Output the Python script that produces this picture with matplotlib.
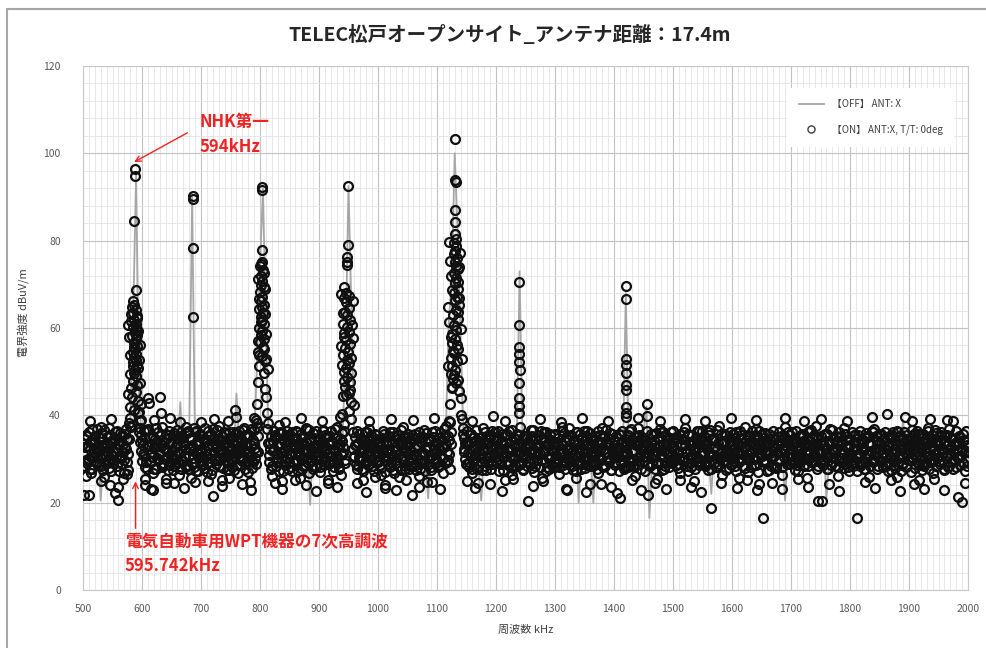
import numpy as np
import matplotlib.pyplot as plt
from matplotlib.patches import Rectangle
from matplotlib.ticker import MultipleLocator

plt.rcParams['font.family'] = ['Noto Sans CJK JP', 'DejaVu Sans']

# =====================================
# Data
# =====================================
TITLE = 'TELEC松戸オープンサイト_アンテナ距離：17.4m'
XLABEL = '周波数 kHz'
YLABEL = '電界強度 dBuV/m'
LABEL_OFF = '【OFF】 ANT: X'
LABEL_ON = '【ON】 ANT:X, T/T: 0deg'

# OFF sweep: 500-2000 kHz, 5 kHz step (dBuV/m)
OFF_START, OFF_STEP = 500, 5
OFF_LEVEL = [
    31, 34, 28, 30, 33, 36, 20.5, 32, 29, 35,     # 500
    33, 27, 31, 34, 29, 30, 38, 62, 95, 45,       # 550
    33, 29, 35, 31, 28, 34, 30, 36, 27, 32,       # 600
    34, 29, 31, 43, 28, 33, 36, 90, 31, 29,       # 650
    32, 35, 28, 31, 34, 30, 27, 33, 36, 29,       # 700
    31, 28, 45, 33, 30, 35, 29, 32, 34, 52,       # 750
    74, 92, 60, 33, 29, 35, 31, 28, 34, 30,       # 800
    36, 29, 32, 34, 27, 31, 33, 19.5, 35, 30,     # 850
    28, 33, 31, 36, 29, 34, 30, 32, 35, 55,       # 900
    92.5, 64, 33, 29, 31, 35, 28, 32, 34, 30,     # 950
    33, 29, 36, 31, 28, 34, 30, 32, 35, 29,       # 1000
    31, 34, 28, 33, 30, 36, 29, 21, 32, 34,       # 1050
    30, 28, 33, 36, 62, 70, 100, 82, 58, 35,      # 1100
    31, 29, 34, 32, 28, 20.5, 33, 30, 35, 29,     # 1150
    34, 31, 28, 33, 30, 36, 29, 32, 73, 33,       # 1200
    30, 34, 28, 31, 35, 29, 33, 30, 27, 32,       # 1250
    35, 29, 31, 34, 28, 33, 30, 36, 20, 31,       # 1300
    33, 29, 32, 20, 34, 30, 28, 35, 31, 33,       # 1350
    29, 32, 35, 30, 68, 33, 28, 31, 34, 30,       # 1400
    36, 42, 16.5, 31, 34, 29, 33, 30, 35, 28,     # 1450
    32, 34, 29, 31, 36, 28, 33, 30, 35, 31,       # 1500
    29, 33, 31, 22, 34, 30, 36, 28, 32, 34,       # 1550
    30, 35, 28, 33, 31, 29, 34, 32, 36, 30,       # 1600
    28, 33, 31, 35, 29, 34, 30, 32, 20.5, 33,     # 1650
    35, 29, 32, 34, 28, 31, 36, 30, 33, 29,       # 1700
    32, 35, 21, 30, 34, 28, 33, 31, 36, 29,       # 1750
    33, 30, 34, 29, 32, 36, 28, 31, 35, 30,       # 1800
    29, 34, 31, 33, 28, 36, 30, 32, 39, 31,       # 1850
    34, 30, 33, 28, 35, 31, 29, 36, 32, 30,       # 1900
    31, 35, 28, 33, 30, 34, 29, 32, 36, 30,       # 1950
    33,                                           # 2000
]

# ON sweep noise floor: three interleaved passes, 2.5 kHz step each
# (None = no noise-level point, carrier region)
ON_START, ON_STEP = 500, 2.5
ON_OFFSETS = [0.0, 0.8, 1.6]
NOISE_ON_A = [
    33.4, 21.8, 35.6, 29.1, 21.7, 27.8, 36.9, 30.5, 34.2, 31.4, 32.8, 28.6, 37.4, 33.1, 25.9, 30.9, 35.1, 29.7, 33.8, 27.3,  # 500
    31.6, 34.8, 22.3, 28.4, 20.6, 35.9, 30.2, 33.5, 26.7, 36.8, 29.4, 38.2, None, None, None, None, None, None, 40.7, 38.9,  # 550
    29.6, 33.2, 25.4, 36.7, 43.9, 42.8, 23.1, 31.5, 27.8, 34.6, 30.3, 36.2, 44.2, 40.5, 28.7, 33.9, 24.6, 32.1, 35.4, 29.2,  # 600
    31.8, 27.5, 35.9, 30.1, 33.6, 26.3, 38.4, 29.7, 34.8, 32.2, 28.1, 36.5, 30.7, 25.6, 33.3, 37.1, 29.4, 34.1, 27.2, 31.9,  # 650
    35.2, 30.6, 27.9, 33.8, 29.1, 36.3, 31.4, 26.5, 21.6, 34.5, 28.8, 32.7, 37.6, 30.1, 25.2, 33.1, 29.8, 35.7, 31.2, 27.4,  # 700
    32.4, 28.2, 36.1, 30.8, 34.3, 26.9, 31.7, 33.9, 29.5, 37.2, 27.6, 35.1, 30.4, 24.7, 33.2, 29.3, 36.6, 31.5, 38.3, None,  # 750
    None, None, None, None, None, 36.9, 29.2, 33.6, 26.1, 31.8, 35.4, 28.5, 32.9, 37.8, 30.3, 24.9, 34.2, 29.6, 33.1, 27.7,  # 800
    35.6, 30.9, 27.3, 33.4, 29.8, 36.2, 31.1, 25.7, 34.7, 28.4, 32.3, 37.1, 30.2, 26.8, 33.8, 29.5, 35.9, 31.6, 28.1, 34.4,  # 850
    30.7, 27.1, 33.9, 36.4, 29.3, 32.1, 24.4, 35.2, 30.6, 33.7, 28.2, 31.9, 37.3, 29.1, 34.6, 26.4, 32.8, 38.1, None, None,  # 900
    None, None, None, 36.2, 30.4, 33.1, 27.6, 35.8, 29.9, 32.6, 25.3, 34.1, 31.2, 28.7, 36.8, 30.1, 33.5, 27.2, 31.8, 35.4,  # 950
    29.4, 32.9, 26.3, 34.7, 30.8, 23.4, 33.2, 28.9, 36.1, 31.4, 27.5, 35.3, 29.7, 32.4, 25.8, 34.1, 30.2, 37.4, 28.4, 33.3,  # 1000
    31.2, 27.8, 34.5, 21.7, 30.1, 35.8, 28.6, 32.7, 26.2, 33.9, 29.4, 36.6, 31.1, 24.8, 34.3, 30.5, 27.4, 35.1, 32.2, 29.1,  # 1050
    33.7, 28.3, 35.9, 30.6, 26.9, 32.8, 37.6, 29.2, 34.4, 38.4, None, None, None, None, None, None, None, 39.2, 34.8, 30.1,  # 1100
    36.3, 31.4, 28.1, 33.8, 26.7, 35.1, 30.2, 32.9, 24.6, 34.7, 29.3, 37.2, 31.8, 27.5, 33.4, 30.7, 35.6, 28.8, 32.3, 36.1,  # 1150
    29.6, 34.2, 27.3, 31.9, 35.7, 30.4, 25.1, 33.6, 28.7, 36.4, 32.1, 26.4, 34.9, 30.3, 33.2, 29.1, 37.3, 31.5, 27.8, 35.2,  # 1200
    32.6, 28.4, 20.4, 34.8, 30.2, 36.7, 27.1, 33.5, 29.8, 35.4, 31.1, 25.7, 33.9, 29.2, 36.2, 30.8, 27.6, 34.3, 32.4, 28.1,  # 1250
    35.8, 30.9, 33.1, 26.6, 31.7, 37.4, 29.4, 34.2, 22.8, 32.5, 28.7, 35.6, 30.3, 33.8, 27.2, 36.1, 31.6, 29.1, 34.7, 30.2,  # 1300
    27.9, 33.3, 36.5, 30.1, 24.3, 32.8, 28.6, 35.2, 31.4, 26.8, 34.1, 29.7, 37.1, 32.2, 28.3, 33.6, 30.5, 35.9, 27.4, 31.8,  # 1350
    34.3, 29.2, 22.2, 32.7, 21.0, 35.5, 30.8, 27.7, 33.9, 31.3, 36.3, 28.5, 34.6, 30.1, 26.2, 33.2, 37.2, 29.6, 32.4, 35.1,  # 1400
    30.4, 27.3, 33.7, 21.8, 31.2, 35.8, 28.9, 34.4, 30.6, 25.4, 32.9, 36.9, 29.1, 33.4, 27.6, 35.3, 31.7, 28.2, 34.8, 30.9,  # 1450
    36.4, 32.1, 28.6, 34.9, 30.3, 26.7, 33.5, 29.8, 37.1, 31.9, 27.2, 35.6, 30.7, 33.2, 24.9, 32.6, 36.3, 29.4, 34.1, 28.8,  # 1500
    31.5, 35.2, 29.1, 33.8, 27.4, 36.6, 18.8, 30.9, 34.5, 28.2, 32.3, 37.5, 30.1, 26.3, 33.7, 29.6, 35.4, 31.2, 27.9, 34.2,  # 1550
    30.6, 33.4, 28.4, 36.1, 31.8, 25.6, 34.7, 29.9, 32.6, 37.3, 30.2, 27.1, 35.3, 31.4, 33.9, 28.7, 36.8, 30.5, 24.2, 33.1,  # 1600
    35.7, 16.6, 29.3, 33.2, 31.1, 27.5, 34.6, 30.4, 36.5, 32.7, 28.1, 35.1, 29.7, 33.6, 26.4, 31.9, 37.4, 30.8, 34.3, 28.9,  # 1650
    32.4, 36.2, 29.5, 34.1, 30.7, 27.3, 33.8, 31.2, 35.5, 28.6, 32.9, 25.7, 36.4, 30.3, 34.7, 29.2, 33.1, 37.6, 20.3, 31.5,  # 1700
    33.6, 20.4, 29.9, 35.8, 31.3, 27.7, 34.2, 30.5, 36.7, 32.1, 28.4, 33.9, 26.1, 31.7, 35.2, 29.4, 37.2, 32.8, 30.2, 27.3,  # 1750
    34.6, 31.1, 28.3, 35.4, 32.2, 16.5, 30.6, 36.3, 29.2, 33.7, 27.6, 34.9, 31.4, 25.8, 33.3, 29.8, 36.9, 30.9, 34.1, 28.5,  # 1800
    32.3, 35.7, 29.6, 33.9, 30.4, 40.4, 27.2, 34.8, 31.6, 36.2, 28.7, 33.1, 25.9, 30.9, 35.3, 32.4, 29.1, 39.6, 31.2, 34.4,  # 1850
    29.8, 33.5, 36.6, 30.2, 27.9, 34.3, 31.8, 25.2, 35.6, 32.7, 28.3, 33.8, 30.6, 37.1, 29.4, 34.6, 26.8, 32.1, 35.9, 30.3,  # 1900
    33.2, 28.9, 35.4, 31.3, 27.6, 34.1, 30.7, 36.8, 32.4, 29.2, 38.6, 33.6, 28.1, 21.2, 35.2, 30.6, 20.1, 34.3, 31.8, 29.5,  # 1950
    32.7,                                                                                                                     # 2000
]
NOISE_ON_B = [
    31.2, 34.6, 29.8, 32.9, 36.1, 30.4, 27.6, 33.7, 35.2, 29.3, 31.8, 34.9, 28.4, 32.5, 36.7, 30.8, 33.4, 27.9, 35.6, 31.1,  # 500
    33.9, 29.7, 32.6, 36.3, 30.2, 34.1, 28.8, 31.5, 35.8, 32.2, 27.4, 34.5, None, None, None, None, None, None, 37.2, 31.9,  # 550
    34.3, 30.6, 28.1, 33.2, 36.8, 31.4, 29.5, 35.1, 32.7, 27.8, 34.2, 30.9, 33.6, 37.4, 29.1, 32.3, 35.7, 31.6, 28.6, 33.8,  # 600
    30.1, 35.4, 32.8, 28.9, 34.7, 31.3, 36.2, 29.6, 33.1, 30.7, 35.9, 27.7, 32.4, 34.8, 30.3, 28.2, 36.4, 31.7, 33.5, 29.4,  # 650
    32.1, 28.7, 34.4, 31.9, 27.1, 35.5, 30.2, 33.3, 36.9, 29.8, 32.6, 34.1, 28.3, 31.1, 35.3, 30.5, 33.9, 27.5, 32.8, 36.1,  # 700
    29.9, 33.6, 31.4, 35.8, 28.6, 32.2, 30.1, 34.6, 36.7, 31.8, 29.2, 33.1, 35.4, 30.7, 27.9, 34.3, 32.5, 28.8, 35.2, None,  # 750
    None, None, None, None, None, 33.7, 30.9, 35.3, 28.4, 32.1, 34.8, 31.2, 29.6, 36.2, 33.4, 27.3, 31.9, 35.6, 30.2, 34.1,  # 800
    31.3, 28.2, 34.5, 32.6, 36.4, 29.7, 33.2, 30.8, 27.6, 35.1, 31.7, 33.8, 29.1, 36.6, 32.3, 28.5, 34.9, 30.4, 33.3, 31.6,  # 850
    34.2, 30.3, 32.9, 28.7, 35.6, 31.1, 33.7, 29.4, 36.3, 27.2, 32.4, 34.8, 30.6, 28.1, 33.5, 35.9, 31.3, 29.8, None, None,  # 900
    None, None, None, 32.4, 35.1, 28.9, 33.6, 30.5, 34.4, 27.8, 31.9, 36.1, 29.3, 33.2, 30.9, 35.5, 28.4, 32.7, 34.6, 31.5,  # 950
    30.8, 34.1, 27.9, 32.3, 35.7, 29.5, 31.6, 33.9, 28.2, 30.4, 36.2, 32.8, 29.1, 34.5, 31.2, 27.4, 33.4, 30.7, 35.3, 31.9,  # 1000
    33.3, 29.6, 31.8, 35.4, 28.3, 32.6, 34.7, 30.1, 27.6, 33.8, 31.4, 29.2, 35.9, 32.1, 28.8, 34.2, 30.6, 33.1, 36.4, 29.9,  # 1050
    31.5, 34.9, 28.6, 32.8, 30.3, 35.6, 33.2, 29.7, 31.1, 36.2, None, None, None, None, None, None, None, 35.8, 31.7, 33.6,  # 1100
    28.9, 33.5, 31.2, 35.8, 29.4, 32.7, 34.3, 27.8, 31.9, 30.6, 35.1, 32.4, 28.5, 34.6, 30.9, 33.7, 29.2, 36.3, 31.4, 32.9,  # 1150
    34.5, 30.1, 32.6, 28.8, 33.9, 31.7, 35.4, 29.6, 32.2, 30.8, 34.1, 27.9, 33.3, 31.5, 35.7, 28.6, 32.8, 30.4, 34.9, 31.2,  # 1200
    30.2, 33.7, 31.6, 29.1, 35.2, 32.3, 28.4, 34.6, 30.9, 33.1, 36.5, 29.7, 31.8, 34.2, 28.2, 32.9, 35.5, 30.5, 33.4, 29.6,  # 1250
    32.7, 29.4, 34.8, 31.1, 33.6, 28.7, 35.9, 30.3, 32.1, 34.4, 29.8, 31.6, 27.5, 33.9, 36.1, 30.7, 32.4, 34.7, 28.9, 33.2,  # 1300
    31.9, 35.3, 30.4, 32.8, 28.3, 34.1, 31.2, 29.5, 33.7, 36.4, 30.1, 32.5, 28.6, 35.2, 31.7, 33.4, 29.3, 34.6, 32.2, 30.6,  # 1350
    33.1, 30.8, 32.4, 35.7, 29.6, 31.3, 34.2, 28.1, 32.9, 35.4, 30.2, 33.6, 29.4, 31.8, 35.1, 28.7, 33.3, 30.9, 34.5, 32.1,  # 1400
    29.5, 34.3, 31.4, 28.9, 32.7, 30.3, 35.6, 33.2, 29.1, 31.7, 34.8, 30.6, 32.3, 36.1, 28.4, 33.5, 31.1, 34.7, 29.8, 32.6,  # 1450
    33.8, 30.2, 35.1, 31.6, 28.8, 32.9, 34.6, 30.4, 33.1, 29.3, 35.8, 31.9, 28.1, 34.2, 32.5, 30.7, 33.7, 36.3, 29.6, 31.4,  # 1500
    30.9, 33.3, 28.6, 32.2, 35.4, 31.1, 29.7, 34.5, 32.8, 30.3, 33.6, 28.9, 35.7, 31.5, 34.1, 30.8, 32.4, 29.2, 36.2, 33.1,  # 1550
    32.3, 29.6, 34.8, 31.7, 33.2, 30.1, 35.5, 28.4, 32.6, 34.3, 31.2, 29.9, 33.8, 36.4, 30.5, 32.9, 28.7, 34.6, 31.3, 33.5,  # 1600
    30.6, 34.2, 31.8, 29.4, 33.3, 35.8, 30.2, 32.7, 28.5, 34.9, 31.6, 33.1, 29.8, 35.3, 32.2, 30.4, 34.5, 28.9, 33.6, 31.2,  # 1650
    34.4, 30.7, 33.5, 31.1, 28.6, 35.2, 32.4, 29.9, 34.1, 30.3, 33.7, 36.1, 31.5, 29.2, 32.8, 35.4, 30.8, 33.2, 28.3, 32.1,  # 1700
    31.4, 33.9, 29.5, 32.6, 35.7, 30.9, 33.4, 28.7, 31.9, 34.6, 30.2, 32.5, 35.1, 29.6, 33.8, 31.3, 28.9, 34.3, 32.7, 30.5,  # 1750
    33.2, 29.8, 32.1, 35.6, 30.6, 33.7, 31.4, 28.8, 34.5, 32.2, 29.3, 35.2, 30.9, 33.5, 31.8, 36.2, 29.7, 32.6, 34.1, 30.4,  # 1800
    29.6, 33.4, 31.2, 34.7, 28.5, 32.9, 35.3, 30.8, 33.1, 29.9, 34.4, 31.7, 36.1, 30.2, 32.4, 28.6, 33.9, 31.5, 35.6, 32.3,  # 1850
    32.8, 30.4, 34.6, 31.1, 33.3, 29.2, 35.8, 32.5, 30.1, 33.6, 28.9, 31.8, 34.9, 30.6, 32.2, 35.4, 29.5, 33.8, 31.3, 34.2,  # 1900
    31.7, 34.1, 29.8, 32.3, 35.5, 30.9, 33.2, 28.4, 32.7, 34.8, 31.4, 29.6, 33.9, 30.3, 35.1, 32.6, 29.1, 34.4, 31.8, 33.3,  # 1950
    32.1,                                                                                                                     # 2000
]
NOISE_ON_C = [
    28.4, 32.7, 35.3, 30.1, 33.8, 26.9, 34.5, 31.6, 29.2, 36.8, 32.3, 30.7, 35.9, 27.5, 33.1, 31.9, 29.6, 37.1, 30.3, 34.2,  # 500
    29.1, 36.2, 31.7, 33.4, 27.3, 30.6, 35.5, 29.8, 32.8, 34.6, 31.1, 37.6, None, None, None, None, None, None, 33.8, 35.6,  # 550
    31.2, 36.5, 29.4, 27.6, 32.9, 34.7, 30.5, 26.8, 33.6, 37.2, 29.7, 31.4, 35.8, 28.2, 32.6, 30.1, 34.9, 27.4, 36.3, 30.8,  # 600
    33.6, 28.5, 31.1, 36.7, 29.2, 35.3, 27.8, 33.9, 30.6, 37.3, 28.7, 32.5, 34.9, 29.1, 31.8, 36.1, 27.3, 33.2, 30.4, 35.7,  # 650
    28.9, 34.6, 37.1, 30.7, 33.1, 29.3, 35.8, 27.4, 31.6, 33.4, 36.7, 29.8, 32.2, 34.4, 27.9, 36.2, 31.1, 33.7, 29.4, 34.8,  # 700
    35.1, 30.6, 27.5, 33.2, 31.9, 36.4, 28.6, 32.7, 30.3, 35.5, 33.6, 27.1, 31.8, 36.9, 29.5, 33.7, 30.2, 37.4, 31.6, None,  # 750
    None, None, None, None, None, 38.3, 32.4, 27.7, 34.1, 36.3, 29.9, 33.2, 27.2, 31.5, 35.9, 30.8, 28.6, 33.3, 36.5, 29.4,  # 800
    33.8, 36.1, 29.4, 31.2, 34.8, 27.3, 32.6, 35.7, 30.1, 33.4, 28.6, 36.8, 31.9, 29.5, 34.3, 27.8, 32.7, 36.4, 30.6, 33.1,  # 850
    28.1, 33.4, 36.7, 30.2, 32.5, 35.3, 28.8, 31.7, 34.2, 29.6, 36.9, 30.4, 33.3, 27.6, 31.2, 34.1, 36.4, 29.1, None, None,  # 900
    None, None, None, 30.7, 33.2, 36.5, 28.4, 31.7, 34.9, 27.3, 33.5, 29.8, 36.2, 31.4, 34.2, 28.5, 32.9, 35.7, 29.3, 33.6,  # 950
    34.2, 28.7, 31.5, 36.4, 27.1, 33.8, 30.4, 35.2, 29.3, 33.6, 26.7, 31.9, 35.4, 28.5, 33.1, 36.6, 29.9, 32.2, 27.6, 34.7,  # 1000
    35.7, 32.1, 28.4, 30.9, 34.6, 27.5, 33.3, 36.1, 29.8, 31.6, 35.1, 27.2, 32.8, 34.9, 30.3, 28.1, 36.2, 31.3, 29.4, 33.7,  # 1050
    28.2, 32.6, 30.7, 34.4, 36.8, 29.1, 31.7, 35.3, 27.6, 33.4, None, None, None, None, None, None, None, 37.1, 32.2, 28.8,  # 1100
    33.6, 29.2, 35.4, 27.8, 32.1, 30.9, 36.7, 28.4, 34.2, 31.1, 27.4, 33.9, 36.1, 30.3, 29.5, 34.8, 27.7, 32.6, 35.1, 30.4,  # 1150
    31.8, 36.3, 29.6, 34.2, 27.5, 33.1, 30.6, 35.8, 28.9, 32.4, 36.7, 30.1, 28.6, 34.5, 31.3, 35.6, 29.1, 33.7, 27.4, 32.9,  # 1200
    35.3, 29.5, 33.2, 36.7, 27.9, 31.4, 34.9, 29.8, 32.7, 28.1, 34.6, 31.6, 36.2, 27.3, 33.4, 30.1, 35.8, 28.6, 31.9, 35.5,  # 1250
    29.1, 33.8, 28.2, 32.4, 36.3, 31.5, 27.6, 35.1, 29.9, 37.1, 32.7, 28.5, 34.3, 31.2, 29.4, 33.5, 35.7, 27.8, 32.1, 36.4,  # 1300
    30.2, 28.6, 33.4, 35.9, 31.1, 29.2, 34.6, 32.4, 27.7, 30.9, 35.4, 33.8, 28.2, 31.6, 36.6, 29.5, 33.2, 27.4, 35.7, 31.3,  # 1350
    28.6, 35.2, 30.4, 27.3, 33.5, 36.4, 29.2, 33.3, 31.4, 28.1, 34.1, 36.8, 31.7, 28.3, 33.9, 30.2, 35.4, 32.5, 27.8, 34.4,  # 1400
    33.2, 30.8, 36.5, 32.3, 28.4, 33.7, 31.2, 27.6, 35.9, 29.3, 33.1, 36.1, 27.4, 31.9, 35.6, 29.4, 34.3, 31.7, 36.2, 29.1,  # 1450
    29.5, 34.6, 31.4, 27.9, 35.7, 33.1, 29.6, 36.2, 31.3, 28.4, 33.8, 29.1, 35.4, 32.3, 27.6, 34.9, 30.2, 28.7, 33.5, 36.3,  # 1500
    34.2, 28.4, 33.5, 36.1, 30.6, 27.8, 34.3, 32.6, 29.4, 36.7, 28.3, 31.4, 33.6, 29.2, 35.8, 27.4, 31.6, 34.7, 30.3, 28.6,  # 1550
    35.8, 31.2, 27.3, 33.6, 29.4, 36.5, 31.1, 33.7, 27.9, 30.4, 35.6, 33.1, 28.2, 31.7, 35.3, 29.9, 32.2, 27.1, 36.4, 30.6,  # 1600
    32.4, 29.7, 35.9, 27.2, 33.8, 31.3, 28.4, 35.2, 30.7, 27.9, 33.4, 36.1, 31.6, 28.2, 34.7, 33.3, 29.5, 36.2, 31.1, 35.6,  # 1650
    29.3, 33.6, 27.4, 36.5, 32.2, 29.8, 31.4, 35.8, 28.3, 33.5, 30.1, 28.4, 33.2, 36.7, 29.6, 31.3, 35.1, 27.6, 34.8, 29.4,  # 1700
    35.2, 28.7, 33.3, 30.4, 27.6, 34.2, 36.8, 32.1, 29.4, 31.6, 35.3, 28.1, 36.2, 33.4, 30.2, 27.9, 35.7, 30.6, 28.1, 34.6,  # 1750
    30.2, 36.1, 29.4, 33.8, 27.2, 35.6, 28.3, 34.1, 31.8, 27.6, 35.9, 30.2, 33.7, 28.4, 36.3, 29.2, 31.6, 35.3, 27.7, 33.6,  # 1800
    35.4, 31.3, 28.2, 36.1, 32.4, 29.1, 33.3, 27.5, 35.6, 31.2, 27.9, 36.3, 29.4, 33.5, 27.3, 34.8, 36.2, 28.1, 33.2, 29.7,  # 1850
    31.4, 27.1, 33.2, 35.8, 30.5, 36.3, 28.6, 33.4, 27.5, 35.7, 31.6, 29.3, 36.4, 27.8, 33.9, 29.6, 31.2, 36.7, 28.4, 33.5,  # 1900
    29.6, 36.2, 32.4, 27.4, 33.8, 35.6, 28.2, 31.3, 34.6, 27.7, 33.1, 36.5, 30.4, 33.7, 28.6, 31.9, 35.8, 27.2, 36.3, 28.4,  # 1950
    30.6,                                                                                                                     # 2000
]

# ON points on the fringe of the noise band (kHz, dBuV/m)
FRINGE_FREQ = [
    505, 530, 545, 560, 568, 575, 605, 618, 640, 655, 672, 690, 712, 735, 748, 770, 785,
    825, 838, 860, 878, 895, 915, 930, 965, 980, 995, 1012, 1030, 1048, 1070, 1092,
    1105, 1150, 1165, 1190, 1210, 1228, 1262, 1280, 1318, 1335, 1352, 1378, 1395,
    1430, 1445, 1470, 1488, 1512, 1530, 1548, 1582, 1608, 1625, 1642, 1668, 1685,
    1712, 1728, 1765, 1782, 1825, 1842, 1870, 1885, 1908, 1925, 1942, 1960, 1995,
    512, 548, 620, 648, 700, 722, 745, 790, 842, 870, 905, 935, 985, 1022, 1060, 1095,
    1160, 1195, 1215, 1275, 1310, 1345, 1390, 1440, 1478, 1520, 1555, 1598, 1640, 1690,
    1722, 1750, 1795, 1838, 1905, 1935, 1965,
]
FRINGE_LEVEL = [
    26.0, 25.0, 24.0, 23.5, 25.5, 26.5, 24.0, 23.0, 25.5, 24.5, 23.3, 24.8, 25.0, 23.8, 25.6, 24.2, 22.8,
    24.6, 23.1, 25.3, 24.0, 22.6, 25.1, 23.5, 24.4, 22.4, 25.8, 24.1, 22.9, 25.2, 23.6, 24.7,
    23.2, 25.0, 23.4, 24.3, 22.7, 25.4, 23.8, 24.9, 23.1, 25.6, 22.5, 24.2, 23.6,
    25.1, 22.8, 24.4, 23.2, 25.3, 23.7, 22.4, 24.6, 23.4, 25.2, 22.9, 24.5, 23.1,
    25.4, 23.6, 24.2, 22.6, 24.8, 23.3, 25.1, 22.7, 24.3, 23.2, 25.5, 22.9, 24.6,
    38.6, 39.2, 38.9, 39.5, 38.4, 39.1, 38.7, 39.3, 38.5, 39.4, 38.8, 39.6, 38.6, 39.2, 38.9, 39.5,
    38.7, 39.8, 38.6, 39.1, 38.5, 39.3, 38.8, 39.4, 38.6, 39.2, 38.7, 39.5, 38.9, 39.3,
    38.6, 39.1, 38.8, 39.6, 38.7, 39.2, 38.9,
]

# ON sweep points on the broadcast carriers / harmonic (kHz, dBuV/m)
SIG_FREQ = [
    # NHK 594 kHz + WPT 7th harmonic
    588, 588.5, 587, 589, 586, 590, 584, 592, 587, 589, 585, 591, 588, 583, 590, 586, 592, 588, 584, 590,
    587, 589, 585, 591, 588, 586, 590, 584, 592, 581, 589, 583, 593, 580, 586, 594, 579, 596, 582, 595,
    576, 594, 578, 597, 583, 591, 580, 595, 585, 593, 579, 589, 582, 596, 587, 577, 592, 584, 598, 581,
    # 686 kHz
    686, 686, 686.5, 686,
    # 760 kHz
    758, 758.5,
    # 803 kHz
    803, 803.5, 803, 804, 802, 805, 801, 803, 806, 800, 804, 802, 807, 799, 805, 801, 803, 806, 798, 804,
    802, 807, 800, 805, 797, 803, 808, 799, 806, 796, 809, 811, 795, 812, 794,
    797, 809, 799, 808, 801, 810, 796, 807, 798, 811, 800, 806, 813, 802, 804,
    # 949 kHz
    949, 948.5, 947, 948, 947.5, 943, 945, 950, 942, 946, 951, 944, 948, 952, 941, 947, 950, 943, 946, 952,
    944, 949, 941, 947, 951, 945, 942, 948, 953, 944, 950, 940, 954, 951, 939, 955,
    938, 957, 940, 956, 942, 958, 937, 954, 939, 955, 943, 953, 946, 959,
    # 1131 kHz
    1131, 1131, 1131.5, 1130, 1130, 1130, 1132, 1129, 1133, 1131, 1128, 1134, 1130, 1132, 1135, 1129, 1133,
    1131, 1136, 1128, 1134, 1130, 1137, 1132, 1127, 1135, 1129, 1133, 1126, 1131, 1125, 1136, 1128, 1124,
    1134, 1126, 1130, 1123, 1127, 1133, 1125, 1138, 1140, 1122, 1141, 1121,
    1120, 1139, 1122, 1137, 1124, 1136, 1126, 1138, 1119, 1135, 1121, 1140, 1123, 1134, 1127, 1142, 1118,
    1129, 1136, 1125,
    # 1239 kHz
    1239, 1239, 1239.5, 1238.5, 1239, 1240, 1238.5, 1239, 1239.5, 1238.5,
    # 1420 kHz
    1420, 1420, 1420.5, 1419.5, 1420, 1420.5, 1419.5, 1420, 1420.5, 1419.5,
    # 1456 kHz
    1456, 1456.5,
]
SIG_LEVEL = [
    96.3, 94.8, 84.6, 68.7, 65.2, 64.1, 63.5, 62.8, 61.9, 61.0, 60.3, 59.6, 58.8, 58.1, 57.4, 56.5, 55.9, 55.2, 54.6, 54.0,
    53.3, 52.7, 52.1, 51.5, 50.4, 49.6, 48.9, 47.8, 47.0, 46.2, 45.3, 44.1, 43.2, 42.0, 41.2, 40.5, 39.3, 38.6, 37.4, 36.1,
    60.8, 59.4, 57.9, 56.2, 64.7, 62.3, 53.8, 52.6, 66.1, 50.9, 49.4, 59.9, 61.6, 47.3, 55.7, 44.9, 58.4, 51.3, 42.5, 63.2,
    90.2, 89.5, 78.3, 62.5,
    41.2, 39.7,
    92.3, 91.6, 77.9, 75.1, 74.6, 73.2, 72.0, 70.8, 69.5, 68.3, 67.1, 66.2, 65.3, 64.4, 63.5, 62.6, 61.8, 60.9, 60.1, 59.2,
    58.3, 57.5, 56.7, 55.6, 54.4, 53.5, 52.4, 51.2, 49.8, 47.6, 46.1, 44.3, 42.7, 40.6, 38.9,
    71.3, 68.9, 66.7, 63.1, 61.4, 58.6, 57.1, 55.2, 53.9, 52.8, 74.2, 72.5, 50.6, 69.8, 64.8,
    92.5, 78.9, 76.3, 75.1, 74.4, 69.3, 68.1, 67.4, 66.8, 65.9, 64.5, 63.7, 62.9, 61.8, 61.0, 60.2, 59.1, 58.0, 57.2, 56.4,
    55.5, 54.6, 53.8, 52.7, 51.9, 50.8, 49.9, 48.7, 47.6, 46.5, 45.2, 44.4, 43.1, 41.0, 40.2, 39.1,
    67.9, 66.1, 63.4, 60.7, 58.8, 57.6, 55.9, 53.2, 51.5, 49.6, 47.9, 45.8, 44.7, 42.3,
    103.3, 93.9, 93.5, 87.0, 84.3, 81.6, 80.4, 79.5, 78.7, 77.6, 76.9, 76.0, 75.2, 74.3, 73.5, 72.6, 71.4,
    70.2, 69.0, 68.1, 67.2, 66.3, 65.2, 64.1, 63.0, 62.1, 60.7, 59.5, 58.6, 57.4, 56.5, 55.3, 54.2, 53.1,
    52.4, 51.2, 50.3, 49.5, 48.4, 47.5, 46.6, 45.5, 43.9, 42.7, 40.1, 38.8,
    79.8, 77.1, 75.4, 73.9, 71.8, 70.5, 68.6, 66.8, 64.9, 63.6, 61.3, 59.8, 57.9, 56.2, 54.7, 52.8, 51.4,
    49.2, 48.1, 46.3,
    70.5, 60.7, 55.7, 54.0, 52.2, 50.4, 47.4, 44.0, 42.2, 40.5,
    69.6, 66.6, 53.0, 51.6, 49.7, 47.0, 45.8, 41.9, 40.5, 39.6,
    42.6, 39.8,
]

# =====================================
# Plot
# =====================================
off_level = np.array(OFF_LEVEL, dtype=float)
off_freq = OFF_START + OFF_STEP * np.arange(len(off_level))

on_freq = [np.array(SIG_FREQ, dtype=float), np.array(FRINGE_FREQ, dtype=float)]
on_level = [np.array(SIG_LEVEL, dtype=float), np.array(FRINGE_LEVEL, dtype=float)]
for offset, values in zip(ON_OFFSETS, [NOISE_ON_A, NOISE_ON_B, NOISE_ON_C]):
    lv = np.array(values, dtype=float)
    on_freq.append(ON_START + offset + ON_STEP * np.arange(len(lv)))
    on_level.append(lv)
on_freq = np.concatenate(on_freq)
on_level = np.concatenate(on_level)
keep = on_freq <= 2000
on_freq, on_level = on_freq[keep], on_level[keep]

fig = plt.figure(figsize=(9.86, 6.48), dpi=100)
ax = fig.add_axes([83 / 986, 1 - 590 / 648, 885 / 986, 524 / 648])

ax.plot(off_freq, off_level, color='#a6a6a6', lw=1.3, label=LABEL_OFF, zorder=2)
ax.plot(on_freq, on_level, 'o', ms=6.4, mfc='none', mec='#101010', mew=1.6,
        label=LABEL_ON, zorder=3)

ax.set_xlim(500, 2000)
ax.set_ylim(0, 120)
ax.xaxis.set_major_locator(MultipleLocator(100))
ax.xaxis.set_minor_locator(MultipleLocator(10))
ax.yaxis.set_major_locator(MultipleLocator(20))
ax.yaxis.set_minor_locator(MultipleLocator(4))
ax.grid(which='major', color='#c2c2c2', lw=0.8)
ax.grid(which='minor', color='#e4e4e4', lw=0.6)
ax.set_axisbelow(True)
ax.tick_params(which='both', length=0, labelsize=7.5, labelcolor='#595959')
ax.tick_params(axis='x', pad=10)
ax.tick_params(axis='y', pad=16)
for sp in ax.spines.values():
    sp.set_color('#c8c8c8')
    sp.set_linewidth(0.8)

ax.set_xlabel(XLABEL, fontsize=8, color='#404040', labelpad=8)
ax.set_ylabel(YLABEL, fontsize=8, color='#404040')
ax.yaxis.set_label_coords(-0.06, 0.53)

fig.text(0.517, 0.946, TITLE, ha='center', va='center', fontsize=14,
         fontweight='bold', color='#262626')

red = '#f02222'
ax.text(698, 104.3, 'NHK第一\n594kHz', color=red, fontsize=12, fontweight='bold',
        ha='left', va='center', linespacing=1.45)
ax.annotate('', xy=(582.5, 97.7), xytext=(681, 105),
            arrowprops=dict(arrowstyle='->', color=red, lw=1.0))
ax.text(571, 8.2, '電気自動車用WPT機器の7次高調波\n595.742kHz', color=red, fontsize=12,
        fontweight='bold', ha='left', va='center', linespacing=1.45)
ax.annotate('', xy=(589, 25.5), xytext=(589, 13.5),
            arrowprops=dict(arrowstyle='->', color=red, lw=1.0))

leg = ax.legend(loc='upper right', bbox_to_anchor=(0.99, 0.968), frameon=True,
                facecolor='white', edgecolor='none', framealpha=1, fontsize=7,
                labelspacing=1.6, handlelength=2.6, borderpad=1.2, handletextpad=0.8,
                markerscale=0.8)
for t in leg.get_texts():
    t.set_color('#404040')
leg.legend_handles[1].set_markeredgewidth(1.0)
leg.legend_handles[1].set_markeredgecolor('#404040')

fig.add_artist(Rectangle((7 / 986, -0.1), 1.2, 1.1 - 9 / 648, transform=fig.transFigure,
                         fill=False, ec='#a6a6a6', lw=1.5))

fig.savefig('out.png', dpi=100)
